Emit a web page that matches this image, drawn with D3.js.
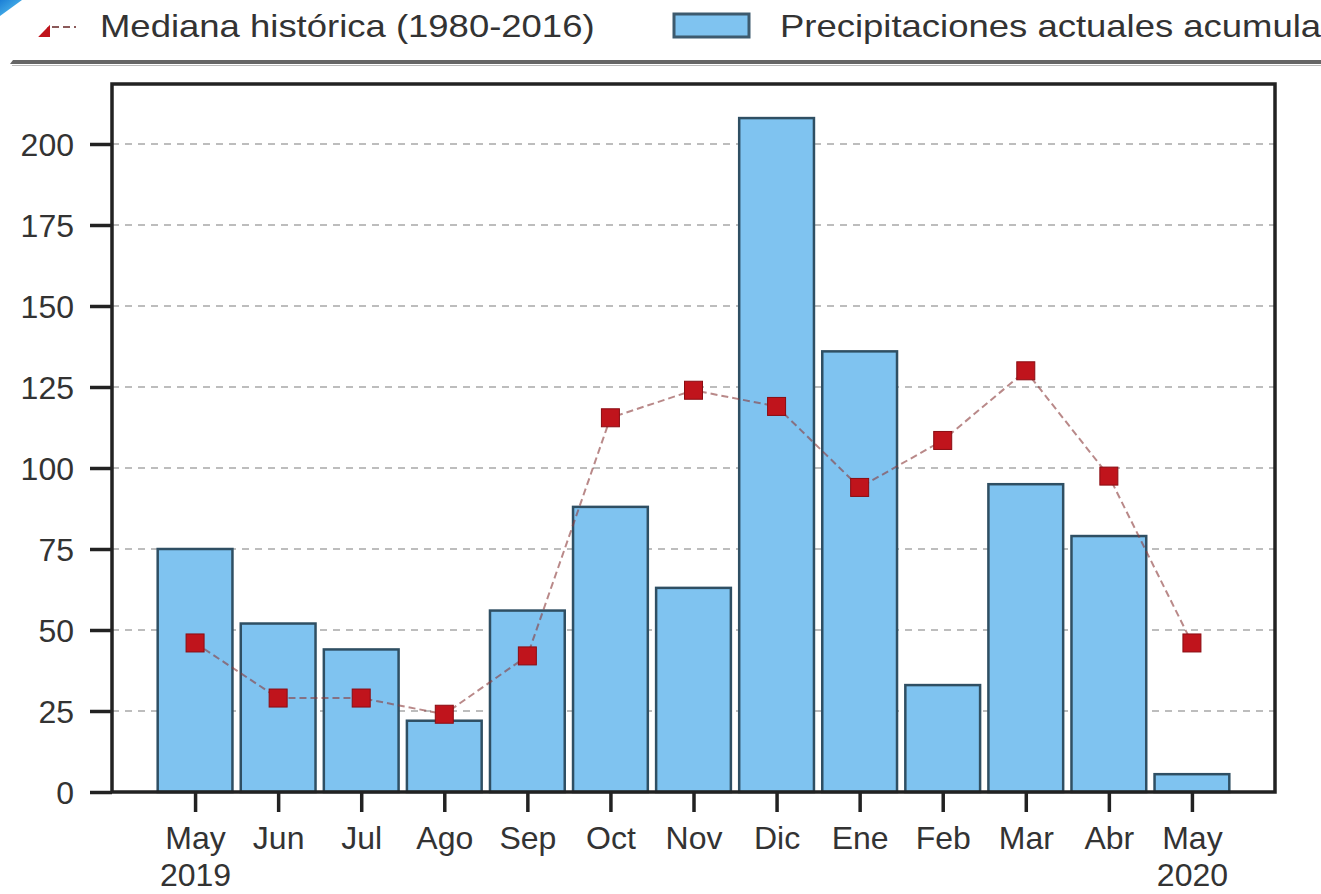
<!DOCTYPE html>
<html>
<head>
<meta charset="utf-8">
<script src="https://cdn.jsdelivr.net/npm/d3@7"></script>
<style>
  body { margin: 0; background: #fff; }
  svg { display: block; font-family: "Liberation Sans", Arial, sans-serif; }
</style>
</head>
<body>
<div id="chart"></div>
<script>
var months = ["May", "Jun", "Jul", "Ago", "Sep", "Oct", "Nov", "Dic", "Ene", "Feb", "Mar", "Abr", "May"];
var years = ["2019", "", "", "", "", "", "", "", "", "", "", "", "2020"];
var actual = [75, 52, 44, 22, 56, 88, 63, 208, 136, 33, 95, 79, 5.5];
var median = [46, 29, 29, 24, 42, 115.5, 124, 119, 94, 108.5, 130, 97.5, 46];
var yTicks = [0, 25, 50, 75, 100, 125, 150, 175, 200];

var width = 1321;
var height = 894;

var x = d3.scaleLinear()
    .domain([-1, 13])
    .range([112, 1275]);

var y = d3.scaleLinear()
    .domain([0, 200])
    .range([792, 144]);

var svg = d3.select("#chart")
    .append("svg")
    .attr("width", width)
    .attr("height", height);

// corner decoration
var defs = svg.append("defs");
var grad = defs.append("linearGradient").attr("id", "corner")
    .attr("x1", "0").attr("y1", "0").attr("x2", "1").attr("y2", "1");
grad.append("stop").attr("offset", "0%").attr("stop-color", "#1b7fd6");
grad.append("stop").attr("offset", "100%").attr("stop-color", "#5ec8f2");

defs.append("clipPath").attr("id", "legclip")
  .append("polygon")
    .attr("points", "12,64 74,0 1321,0 1321,64");

// legend
var leg = svg.append("g").attr("clip-path", "url(#legclip)");

leg.append("line")
    .attr("x1", 30).attr("x2", 76)
    .attr("y1", 27).attr("y2", 27)
    .attr("stroke", "#8b5a5a")
    .attr("stroke-width", 2)
    .attr("stroke-dasharray", "7,4");

leg.append("rect")
    .attr("x", 35).attr("y", 22)
    .attr("width", 15).attr("height", 15)
    .attr("fill", "#c0141c");

leg.append("text")
    .attr("transform", "translate(100,37) scale(1.14,1)")
    .attr("font-size", 32)
    .attr("fill", "#333")
    .text("Mediana histórica (1980-2016)");

leg.append("rect")
    .attr("x", 674).attr("y", 14)
    .attr("width", 75).attr("height", 23)
    .attr("fill", "#7fc3f0")
    .attr("stroke", "#3d5a6e")
    .attr("stroke-width", 3);

leg.append("text")
    .attr("transform", "translate(780,37) scale(1.14,1)")
    .attr("font-size", 32)
    .attr("fill", "#333")
    .text("Precipitaciones actuales acumuladas");

svg.append("polygon")
    .attr("points", "10,64 13,60 1321,60 1321,64")
    .attr("fill", "#666");
svg.append("line")
    .attr("x1", 12).attr("x2", 1321)
    .attr("y1", 65.5).attr("y2", 65.5)
    .attr("stroke", "#bbb")
    .attr("stroke-width", 1);

svg.append("polygon")
    .attr("points", "0,0 22,0 0,16")
    .attr("fill", "url(#corner)");

// grid
svg.append("g")
    .selectAll("line")
    .data(yTicks.slice(1))
    .enter().append("line")
    .attr("x1", x(-1)).attr("x2", x(13))
    .attr("y1", function(d) { return y(d); })
    .attr("y2", function(d) { return y(d); })
    .attr("stroke", "#bdbdbd")
    .attr("stroke-width", 2)
    .attr("stroke-dasharray", "7,6");

// bars
svg.append("g")
    .selectAll("rect")
    .data(actual)
    .enter().append("rect")
    .attr("x", function(d, i) { return x(i - 0.45); })
    .attr("y", function(d) { return y(d); })
    .attr("width", x(0.9) - x(0))
    .attr("height", function(d) { return y(0) - y(d); })
    .attr("fill", "#7fc3f0")
    .attr("stroke", "#2f4f63")
    .attr("stroke-width", 2.5);

// median line
var line = d3.line()
    .x(function(d, i) { return x(i); })
    .y(function(d) { return y(d); });

svg.append("path")
    .datum(median)
    .attr("d", line)
    .attr("fill", "none")
    .attr("stroke", "#8b3a3a")
    .attr("stroke-opacity", 0.6)
    .attr("stroke-width", 2)
    .attr("stroke-dasharray", "7,4");

svg.append("g")
    .selectAll("rect")
    .data(median)
    .enter().append("rect")
    .attr("x", function(d, i) { return x(i) - 9; })
    .attr("y", function(d) { return y(d) - 9; })
    .attr("width", 18)
    .attr("height", 18)
    .attr("fill", "#c0141c")
    .attr("stroke", "#8a0c12")
    .attr("stroke-width", 1);

// frame
svg.append("rect")
    .attr("x", x(-1)).attr("y", 84)
    .attr("width", x(13) - x(-1))
    .attr("height", y(0) - 84)
    .attr("fill", "none")
    .attr("stroke", "#222")
    .attr("stroke-width", 3.5);

// axes
var yAxis = svg.append("g")
    .attr("transform", "translate(" + x(-1) + ",0)")
    .call(d3.axisLeft(y).tickValues(yTicks).tickSize(22).tickPadding(16));

var xAxis = svg.append("g")
    .attr("transform", "translate(0," + y(0) + ")")
    .call(d3.axisBottom(x).tickValues(d3.range(13))
        .tickFormat(function(d) { return months[d]; })
        .tickSize(20).tickPadding(14));

[yAxis, xAxis].forEach(function(g) {
    g.select(".domain").remove();
    g.selectAll(".tick line").attr("stroke", "#222").attr("stroke-width", 3.5);
    g.selectAll(".tick text")
        .attr("font-size", 32)
        .attr("font-family", "Liberation Sans, Arial, sans-serif")
        .attr("fill", "#333");
});

yAxis.selectAll(".tick text")
    .attr("dy", "0.35em");

xAxis.selectAll(".tick text")
    .attr("dy", "0.72em")
    .each(function(d) {
        if (years[d]) {
            d3.select(this).append("tspan")
                .attr("x", 0)
                .attr("dy", "1.15em")
                .text(years[d]);
        }
    });
</script>
</body>
</html>
